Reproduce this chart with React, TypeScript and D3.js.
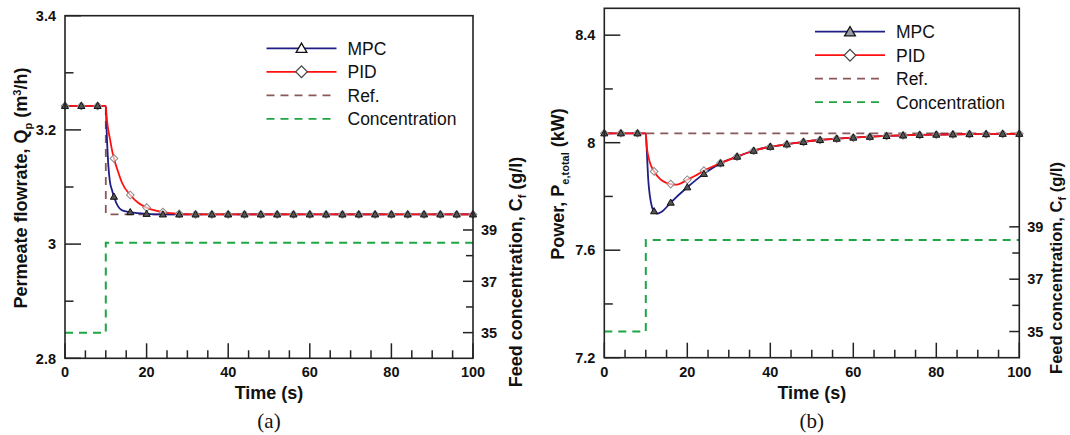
import React from "react";
import * as d3 from "d3";

// ---------- data ----------
const timeMajorTicks = [0, 20, 40, 60, 80, 100];
const timeMinorTicks = [5, 10, 15, 25, 30, 35, 45, 50, 55, 65, 70, 75, 85, 90, 95];
const concTicksMajor = [35, 37, 39];
const concTicksMinor = [36, 38];

// (a) permeate flowrate
const flowMajorTicks = [2.8, 3.0, 3.2, 3.4];
const flowMinorTicks = [2.9, 3.1, 3.3];
const flowMpcTime = [0, 4, 8, 10, 10.2, 10.6, 11, 11.5, 12, 13, 14, 16, 20, 24, 28, 32, 36, 40, 44, 48, 52, 56, 60, 64, 68, 72, 76, 80, 84, 88, 92, 96, 100];
const flowMpcValue = [3.242, 3.242, 3.242, 3.242, 3.2, 3.14, 3.11, 3.095, 3.083, 3.066, 3.059, 3.056, 3.053, 3.052, 3.052, 3.052, 3.052, 3.052, 3.052, 3.052, 3.052, 3.052, 3.052, 3.052, 3.052, 3.052, 3.052, 3.052, 3.052, 3.052, 3.052, 3.052, 3.052];
const flowPidTime = [0, 4, 8, 10, 10.2, 11, 11.6, 12, 13, 14, 16, 18, 20, 22, 24, 28, 32, 36, 40, 44, 48, 52, 56, 60, 64, 68, 72, 76, 80, 84, 88, 92, 96, 100];
const flowPidValue = [3.242, 3.242, 3.242, 3.242, 3.223, 3.185, 3.162, 3.15, 3.127, 3.107, 3.086, 3.072, 3.064, 3.059, 3.056, 3.053, 3.052, 3.052, 3.052, 3.052, 3.052, 3.052, 3.052, 3.052, 3.052, 3.052, 3.052, 3.052, 3.052, 3.052, 3.052, 3.052, 3.052, 3.052];
const flowRefTime = [0, 10, 10, 100];
const flowRefValue = [3.242, 3.242, 3.052, 3.052];

// (b) power
const powerMajorTicks = [7.2, 7.6, 8.0, 8.4];
const powerMinorTicks = [7.4, 7.8, 8.2];
const powerMpcTime = [0, 4, 8, 10, 10.3, 10.6, 11, 11.5, 12, 12.7, 13.5, 14, 16, 20, 24, 28, 32, 36, 40, 44, 48, 52, 56, 60, 64, 68, 72, 76, 80, 84, 88, 92, 96, 100];
const powerMpcValue = [8.035, 8.035, 8.035, 8.035, 7.95, 7.86, 7.8, 7.76, 7.745, 7.736, 7.74, 7.745, 7.777, 7.834, 7.884, 7.923, 7.948, 7.97, 7.985, 7.994, 8.003, 8.01, 8.015, 8.019, 8.022, 8.025, 8.027, 8.029, 8.03, 8.031, 8.032, 8.032, 8.033, 8.033];
const powerPidTime = [0, 4, 8, 10, 10.2, 10.6, 11, 12, 13, 14, 15, 16, 17, 18, 20, 22, 24, 28, 32, 36, 40, 44, 48, 52, 56, 60, 64, 68, 72, 76, 80, 84, 88, 92, 96, 100];
const powerPidValue = [8.035, 8.035, 8.035, 8.035, 7.99, 7.95, 7.925, 7.893, 7.872, 7.858, 7.85, 7.846, 7.844, 7.846, 7.862, 7.878, 7.896, 7.924, 7.948, 7.97, 7.985, 7.994, 8.003, 8.01, 8.015, 8.019, 8.022, 8.025, 8.027, 8.029, 8.03, 8.031, 8.032, 8.032, 8.033, 8.033];
const powerRefTime = [0, 100];
const powerRefValue = [8.035, 8.035];

// feed concentration step (both panels)
const concTime = [0, 10, 10, 100];
const concValue = [35, 35, 38.5, 38.5];

const legendLabels = ["MPC", "PID", "Ref.", "Concentration"];

// ---------- styles ----------
const SANS = "Arial, 'Liberation Sans', Helvetica, sans-serif";
const C_MPC = "#1e1e86";
const C_PID = "#ff1010";
const C_REF = "#8a5858";
const C_CONC = "#1fa544";
const C_AXIS = "#222";
const TICK_FS = 14.5;
const TITLE_FS = 18;

type Pt = { t: number; v: number };
const zip = (t: number[], v: number[]): Pt[] => t.map((tt, i) => ({ t: tt, v: v[i] }));

const fmt = (d: number) => String(+d.toFixed(2));

interface PanelProps {
  x0: number; x1: number; y0: number; y1: number;
  yDomain: [number, number];
  yMajor: number[]; yMinor: number[];
  mpc: Pt[]; pid: Pt[]; refLine: Pt[]; conc: Pt[];
  legendX: number; legendY: number; legendTriFill: string;
  yTitle: React.ReactNode; yTitleX: number; yTitleY: number;
  rTitleX: number; rTitleY: number; rTitleFs: number;
  caption: string;
}

function Panel(p: PanelProps) {
  const x = d3.scaleLinear().domain([0, 100]).range([p.x0, p.x1]);
  const y = d3.scaleLinear().domain(p.yDomain).range([p.y1, p.y0]);
  const yc = d3.scaleLinear().domain([34, 47.35]).range([p.y1, p.y0]);
  const smooth = d3.line<Pt>().x(d => x(d.t)).y(d => y(d.v)).curve(d3.curveMonotoneX);
  const straight = d3.line<Pt>().x(d => x(d.t)).y(d => y(d.v));
  const concLine = d3.line<Pt>().x(d => x(d.t)).y(d => yc(d.v));
  const tri = d3.symbol(d3.symbolTriangle, 22)() as string;
  const triLeg = d3.symbol(d3.symbolTriangle, 50)() as string;
  const dia = d3.symbol(d3.symbolSquare, 30)() as string;
  const diaLeg = d3.symbol(d3.symbolSquare, 68)() as string;
  const isMark = (d: Pt) => Math.abs(d.t % 4) < 1e-9;
  const cx = (p.x0 + p.x1) / 2;
  const lg = p.legendX;
  const rows = [0, 1, 2, 3].map(i => p.legendY + i * 23.5);

  return (
    <g>
      {/* data */}
      <path d={concLine(p.conc) as string} fill="none" stroke={C_CONC} strokeWidth={2} strokeDasharray="8 6" />
      <path d={straight(p.refLine) as string} fill="none" stroke={C_REF} strokeWidth={1.8} strokeDasharray="8 6" />
      <path d={smooth(p.mpc) as string} fill="none" stroke={C_MPC} strokeWidth={1.8} />
      <path d={smooth(p.pid) as string} fill="none" stroke={C_PID} strokeWidth={1.8} />
      {p.pid.filter(isMark).map((d, i) => (
        <path key={"d" + i} d={dia} transform={`translate(${x(d.t)},${y(d.v)}) rotate(45)`} fill="#fff" fillOpacity={0.6} stroke="#8a8a8a" strokeWidth={1} />
      ))}
      {p.mpc.filter(isMark).map((d, i) => (
        <path key={"t" + i} d={tri} transform={`translate(${x(d.t)},${y(d.v) + 0.5})`} fill="#555" stroke="#111" strokeWidth={1} />
      ))}

      {/* frame */}
      <rect x={p.x0} y={p.y0} width={p.x1 - p.x0} height={p.y1 - p.y0} fill="none" stroke={C_AXIS} strokeWidth={1.6} />

      {/* x ticks */}
      {timeMajorTicks.map(t => (
        <g key={"xm" + t}>
          <line x1={x(t)} x2={x(t)} y1={p.y1} y2={p.y1 - 15} stroke={C_AXIS} strokeWidth={1.5} />
          <text x={x(t)} y={p.y1 + 19} textAnchor="middle" fontFamily={SANS} fontWeight="bold" fontSize={TICK_FS} fill="#111">{t}</text>
        </g>
      ))}
      {timeMinorTicks.map(t => (
        <line key={"xn" + t} x1={x(t)} x2={x(t)} y1={p.y1} y2={p.y1 - 8} stroke={C_AXIS} strokeWidth={1.5} />
      ))}

      {/* left y ticks */}
      {p.yMajor.map(v => (
        <g key={"ym" + v}>
          <line x1={p.x0} x2={p.x0 + 16} y1={y(v)} y2={y(v)} stroke={C_AXIS} strokeWidth={1.5} />
          <text x={p.x0 - 9} y={y(v)} dy="0.36em" textAnchor="end" fontFamily={SANS} fontWeight="bold" fontSize={TICK_FS} fill="#111">{fmt(v)}</text>
        </g>
      ))}
      {p.yMinor.map(v => (
        <line key={"yn" + v} x1={p.x0} x2={p.x0 + 8.5} y1={y(v)} y2={y(v)} stroke={C_AXIS} strokeWidth={1.5} />
      ))}

      {/* right (concentration) ticks */}
      {concTicksMajor.map(v => (
        <g key={"cm" + v}>
          <line x1={p.x1} x2={p.x1 - 10} y1={yc(v)} y2={yc(v)} stroke={C_AXIS} strokeWidth={1.5} />
          <text x={p.x1 + 8} y={yc(v)} dy="0.36em" textAnchor="start" fontFamily={SANS} fontWeight="bold" fontSize={TICK_FS} fill="#111">{v}</text>
        </g>
      ))}
      {concTicksMinor.map(v => (
        <line key={"cn" + v} x1={p.x1} x2={p.x1 - 7} y1={yc(v)} y2={yc(v)} stroke={C_AXIS} strokeWidth={1.5} />
      ))}

      {/* titles */}
      <text x={cx} y={p.y1 + 41} textAnchor="middle" fontFamily={SANS} fontWeight="bold" fontSize={TITLE_FS} fill="#111">Time (s)</text>
      <text x={cx} y={428} textAnchor="middle" fontFamily="'Times New Roman', 'Liberation Serif', serif" fontSize={21} fill="#111">{p.caption}</text>
      <text transform={`translate(${p.yTitleX},${p.yTitleY}) rotate(-90)`} textAnchor="middle" fontFamily={SANS} fontWeight="bold" fontSize={TITLE_FS} fill="#111">{p.yTitle}</text>
      <text transform={`translate(${p.rTitleX},${p.rTitleY}) rotate(-90)`} textAnchor="middle" fontFamily={SANS} fontWeight="bold" fontSize={p.rTitleFs} fill="#111">
        Feed concentration, C<tspan fontSize={11} dy={4}>f</tspan><tspan dy={-4}> (g/l)</tspan>
      </text>

      {/* legend */}
      <line x1={lg} x2={lg + 70} y1={rows[0]} y2={rows[0]} stroke={C_MPC} strokeWidth={1.8} />
      <path d={triLeg} transform={`translate(${lg + 35},${rows[0] + 1})`} fill={p.legendTriFill} stroke="#111" strokeWidth={1.3} />
      <line x1={lg} x2={lg + 70} y1={rows[1]} y2={rows[1]} stroke={C_PID} strokeWidth={1.8} />
      <path d={diaLeg} transform={`translate(${lg + 35},${rows[1]}) rotate(45)`} fill="#fff" stroke="#444" strokeWidth={1.2} />
      <line x1={lg} x2={lg + 70} y1={rows[2]} y2={rows[2]} stroke={C_REF} strokeWidth={1.8} strokeDasharray="8 6" />
      <line x1={lg} x2={lg + 70} y1={rows[3]} y2={rows[3]} stroke={C_CONC} strokeWidth={1.8} strokeDasharray="8 6" />
      {legendLabels.map((l, i) => (
        <text key={l} x={lg + 81} y={rows[i]} dy="0.36em" fontFamily={SANS} fontSize={17.5} fill="#111">{l}</text>
      ))}
    </g>
  );
}

export default function App() {
  return (
    <svg width={1070} height={435} style={{ position: "absolute", left: 0, top: 0, background: "#fff" }}>
      <rect x={0} y={0} width={1070} height={435} fill="#fff" />
      <Panel
        x0={65} x1={473} y0={15.7} y1={358.3}
        yDomain={[2.8, 3.4]} yMajor={flowMajorTicks} yMinor={flowMinorTicks}
        mpc={zip(flowMpcTime, flowMpcValue)} pid={zip(flowPidTime, flowPidValue)}
        refLine={zip(flowRefTime, flowRefValue)} conc={zip(concTime, concValue)}
        legendX={266.5} legendY={48.3} legendTriFill="#fff"
        yTitle={<>Permeate flowrate, Q<tspan fontSize={11} dy={5}>p</tspan><tspan dy={-5}> (m</tspan><tspan fontSize={11} dy={-6}>3</tspan><tspan dy={6}>/h)</tspan></>}
        yTitleX={27} yTitleY={188}
        rTitleX={522} rTitleY={272} rTitleFs={TITLE_FS}
        caption="(a)"
      />
      <Panel
        x0={604.3} x1={1019.3} y0={8.3} y1={357.7}
        yDomain={[7.2, 8.5]} yMajor={powerMajorTicks} yMinor={powerMinorTicks}
        mpc={zip(powerMpcTime, powerMpcValue)} pid={zip(powerPidTime, powerPidValue)}
        refLine={zip(powerRefTime, powerRefValue)} conc={zip(concTime, concValue)}
        legendX={815} legendY={31.7} legendTriFill="#9a9aa8"
        yTitle={<>Power, P<tspan fontSize={11} dy={5}>e,total</tspan><tspan dy={-5}> (kW)</tspan></>}
        yTitleX={564} yTitleY={184}
        rTitleX={1062} rTitleY={268} rTitleFs={16.5}
        caption="(b)"
      />
    </svg>
  );
}
